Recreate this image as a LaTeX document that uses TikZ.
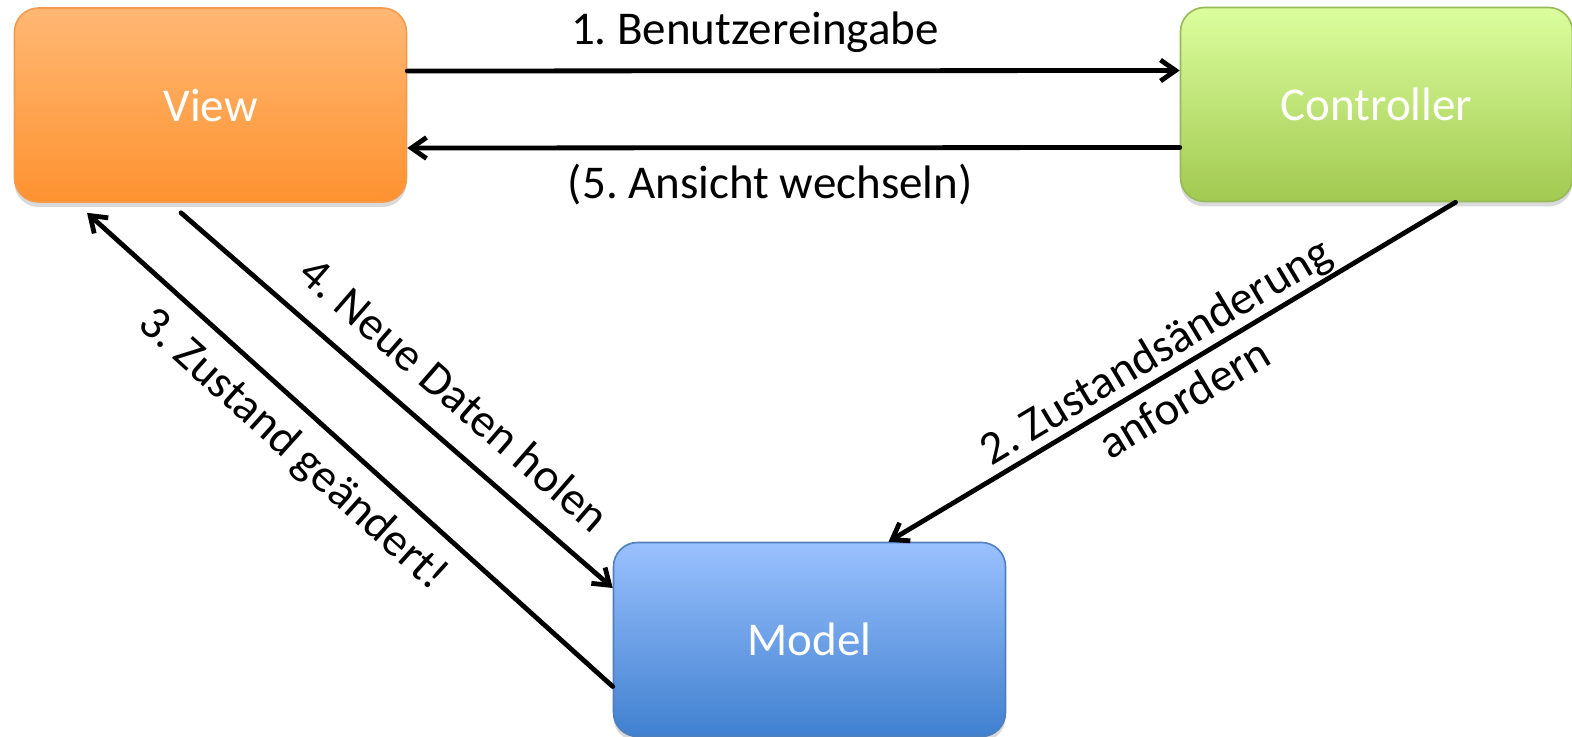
\documentclass[tikz,border=0pt]{standalone}
\usepackage{fontspec}
\setmainfont{Carlito}
\frenchspacing
\usetikzlibrary{arrows.meta,shadows}
\definecolor{viewtop}{HTML}{FFB874}
\definecolor{viewbot}{HTML}{FE9230}
\definecolor{viewline}{HTML}{F49A4E}
\definecolor{ctrltop}{HTML}{DCFE9E}
\definecolor{ctrlbot}{HTML}{A2C950}
\definecolor{ctrlline}{HTML}{98B95A}
\definecolor{modeltop}{HTML}{9AC1FF}
\definecolor{modelbot}{HTML}{4080CF}
\definecolor{modelline}{HTML}{4F7FBC}
\tikzset{every node/.append style={font=\fontsize{23.5pt}{28pt}\selectfont}}

\begin{document}
\begin{tikzpicture}[>={Straight Barb[length=7.5pt,width=10.5pt]},x=.5pt,y=-.5pt,
  box/.style={rounded corners=12pt,minimum width=196pt,minimum height=97pt,
    text=white,line width=.8pt,
    drop shadow={shadow xshift=0pt,shadow yshift=-2.5pt,opacity=.3}},
  flow/.style={line width=2.4pt,line cap=round,line join=round},
  flowlabel/.style={inner sep=0pt}]
  % pixel grid of the original slide, y pointing down
  \useasboundingbox (0,0) rectangle (1572,737);
  \node[box,draw=viewline,top color=viewtop,bottom color=viewbot]
    (View) at (210.5,105) {View};
  \node[box,draw=ctrlline,top color=ctrltop,bottom color=ctrlbot]
    (Controller) at (1376.5,104.5) {Controller};
  \node[box,draw=modelline,top color=modeltop,bottom color=modelbot]
    (Model) at (809.5,639.5) {Model};

  \draw[flow,->] ([yshift=17pt]View.east) --
    node[flowlabel,pos=.45,above=8pt] (lblInput) {1. Benutzereingabe}
    ([yshift=17pt]Controller.west);
  \draw[flow,->] ([xshift=39.5pt]Controller.south) -- ([xshift=39.5pt]Model.north)
    node[flowlabel,pos=.505,sloped,align=center] (lblRequest)
    {2. Zustandsänderung\\anfordern};
  \draw[flow,<-] ([xshift=-61.75pt,yshift=-5pt]View.south) --
    node[flowlabel,pos=.44,sloped,below=8pt] (lblChanged) {3. Zustand geändert!}
    ([yshift=-23.5pt]Model.west);
  \draw[flow,->] ([xshift=-14.75pt,yshift=-5pt]View.south) --
    node[flowlabel,pos=.57,sloped,above=12pt] (lblFetch) {4. Neue Daten holen}
    ([yshift=25.75pt]Model.west);
  \draw[flow,<-] ([yshift=-21.5pt]View.east) --
    node[flowlabel,pos=.47,below=7pt] (lblSwitch) {(5. Ansicht wechseln)}
    ([yshift=-21.5pt]Controller.west);
\end{tikzpicture}
\end{document}
